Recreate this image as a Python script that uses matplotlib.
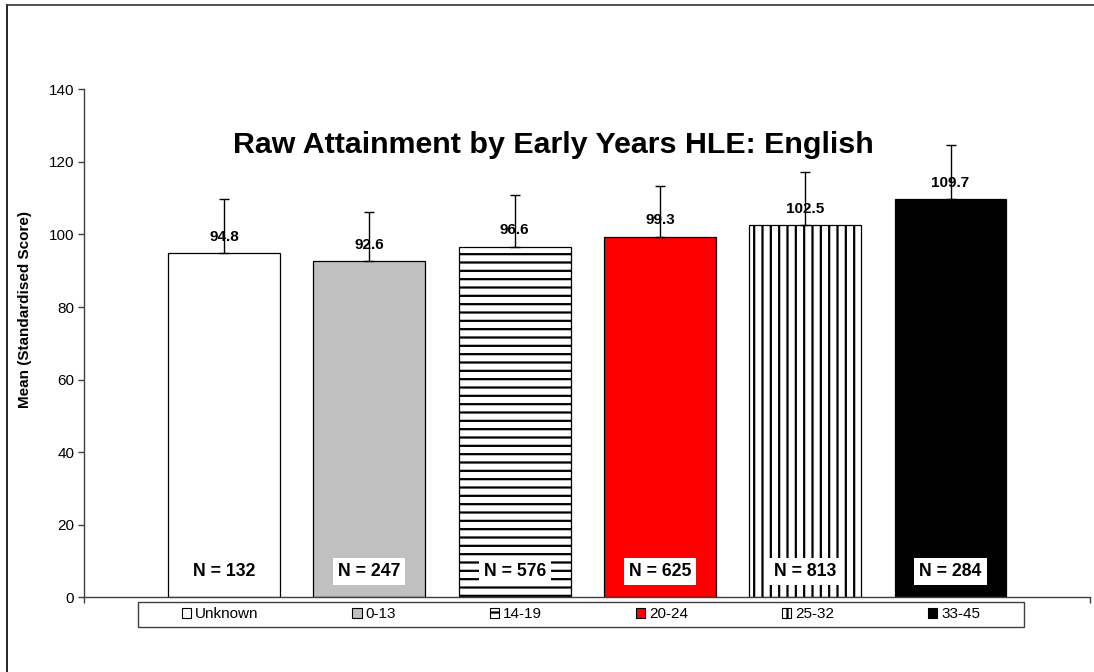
import matplotlib
matplotlib.use("Agg")
import matplotlib.pyplot as plt
import numpy as np
from matplotlib.patches import Patch, Rectangle
from matplotlib.lines import Line2D

plt.rcParams['font.family'] = ['Liberation Sans', 'DejaVu Sans']
plt.rcParams['hatch.linewidth'] = 1.6

# data
groups = ["Unknown", "0-13", "14-19", "20-24", "25-32", "33-45"]
means = [94.8, 92.6, 96.6, 99.3, 102.5, 109.7]
upper_err = [15.1, 13.7, 14.3, 14.1, 14.8, 14.9]
counts = [132, 247, 576, 625, 813, 284]

face_colors = ["white", "#C0C0C0", "white", "#FF0000", "white", "black"]
hatches = [None, None, "--", None, "||", None]

W, H = 1094, 672
fig = plt.figure(figsize=(W / 100, H / 100), dpi=100)
# axes box in pixels: y axis at x=84, x axis ends at x=1090, 0 at y=597, 140 at y=89
ax = fig.add_axes([84 / W, 1 - 597.3 / H, (1090 - 84) / W, (597.3 - 89.3) / H])

x = np.arange(len(groups))
bars = ax.bar(x, means, width=0.77, color=face_colors, edgecolor="black",
              linewidth=0.9, zorder=2)
for b, h in zip(bars, hatches):
    if h:
        b.set_hatch(h)

# only the upper half of the error bar shows above each bar
ax.errorbar(x, means, yerr=[np.zeros(len(x)), upper_err], fmt="none",
            ecolor="black", elinewidth=1, capsize=3.6, capthick=1, zorder=3)

# value labels above bars
for xi, m in zip(x, means):
    ax.annotate(f"{m:.1f}", (xi, m), xytext=(0, 7), textcoords="offset points",
                ha="center", va="bottom", fontsize=11, fontweight="bold", zorder=4)

# N labels near the bottom
for xi, n in zip(x, counts):
    ax.text(xi, 7.2, f"N = {n}", ha="center", va="center", fontsize=12.7,
            fontweight="bold", zorder=4,
            bbox=dict(facecolor="white", edgecolor="none", pad=3.5))

ax.set_xlim(-0.964, 5.96)
ax.set_ylim(0, 140)
ax.set_yticks(np.arange(0, 141, 20))
ax.set_xticks([-0.964, 5.96])
ax.set_xticklabels([])
ax.tick_params(axis="y", direction="out", length=4, width=1, color="#404040",
               labelsize=11, pad=3)
ax.tick_params(axis="x", direction="out", length=4, width=1, color="#404040")
for s in ["top", "right"]:
    ax.spines[s].set_visible(False)
for s in ["left", "bottom"]:
    ax.spines[s].set_color("#404040")
    ax.spines[s].set_linewidth(1)

ax.set_ylabel("Mean (Standardised Score)", fontsize=11, fontweight="bold")
ax.yaxis.set_label_coords(32 / W, 1 - 309 / H, transform=fig.transFigure)

fig.text(553 / W, 1 - 145 / H, "Raw Attainment by Early Years HLE: English",
         ha="center", va="center", fontsize=21.9, fontweight="bold")

# legend frame and entries
fig.add_artist(Rectangle((138 / W, 1 - 626.7 / H), (1024 - 138) / W, 25 / H,
                         transform=fig.transFigure, facecolor="white",
                         edgecolor="#404040", linewidth=1, zorder=1))
handles = [Patch(facecolor=c, edgecolor="black", hatch=h, linewidth=0.8)
           for c, h in zip(face_colors, hatches)]
fig.legend(handles, groups, loc="center", ncol=6, mode="expand", frameon=False,
           bbox_to_anchor=(182 / W, 1 - 626.7 / H, (980 - 182) / W, 25 / H),
           fontsize=11, handlelength=0.62, handleheight=0.62, handletextpad=0.25,
           borderpad=0, borderaxespad=0)

# outer chart border (left and top edges visible)
fig.add_artist(Line2D([7 / W, 7 / W], [0, 1 - 5 / H], transform=fig.transFigure,
                      color="black", linewidth=1.2))
fig.add_artist(Line2D([7 / W, 1], [1 - 5 / H, 1 - 5 / H], transform=fig.transFigure,
                      color="#333333", linewidth=1.2))

fig.savefig("out.png", dpi=100)
